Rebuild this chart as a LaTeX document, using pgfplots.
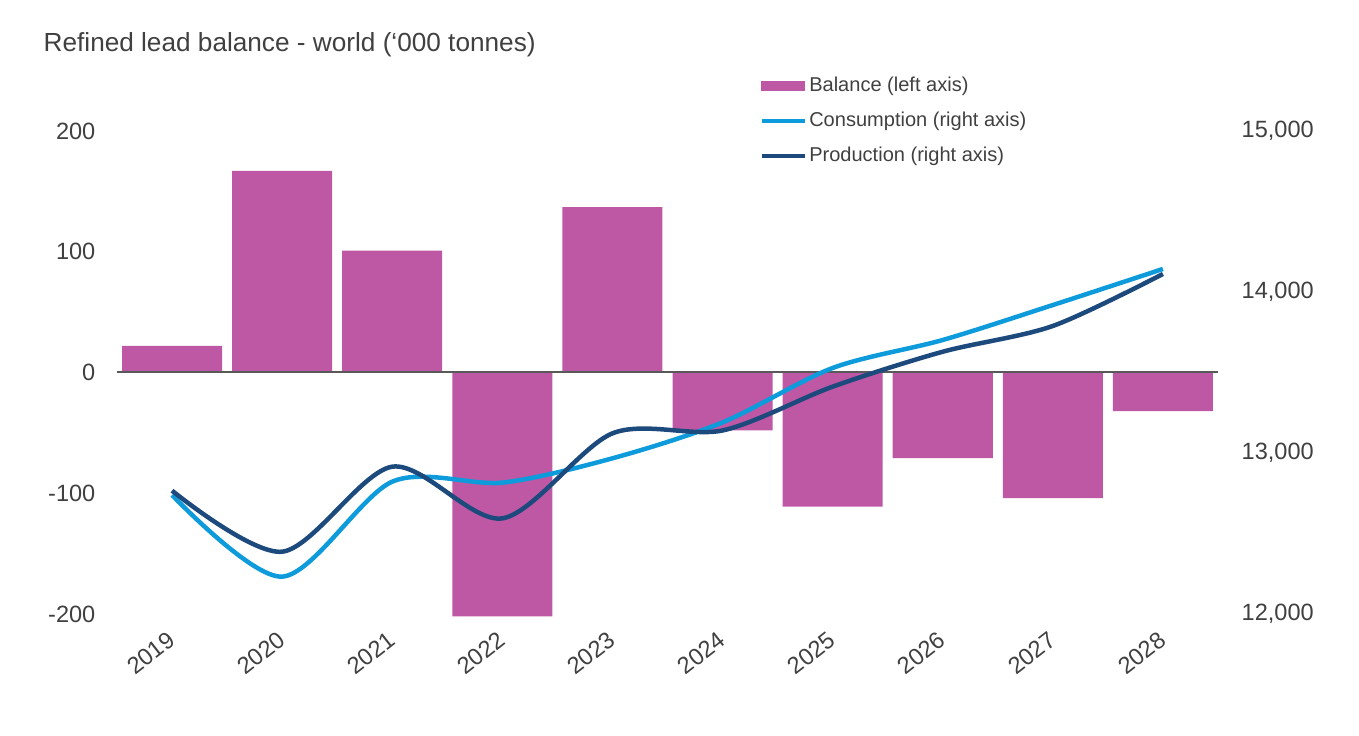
\documentclass[border=0pt]{standalone}
\usepackage{fontspec}
\setmainfont{Liberation Sans}
\usepackage{pgfplots}
\pgfplotsset{compat=1.18}

\definecolor{barpink}{RGB}{190,88,164}
\definecolor{conblue}{RGB}{14,155,219}
\definecolor{prodblue}{RGB}{29,74,124}
\definecolor{txtgray}{RGB}{64,64,64}
\definecolor{zerogray}{RGB}{89,89,89}

\pgfplotsset{
  common/.style={
    scale only axis, width=110.1mm, height=48.3mm,
    xmin=-0.5, xmax=9.5, clip=false,
    axis line style={draw=none}, major tick length=0pt,
    tick label style={font=\fontsize{6.7}{8}\selectfont, text=txtgray},
    /pgf/number format/assume math mode=true,
  }
}

\begin{document}
\begin{tikzpicture}
% Balance (left axis)
\begin{axis}[common, name=ax1,
  ymin=-200, ymax=200, ytick={-200,-100,0,100,200},
  xtick={0,...,9},
  xticklabels={2019,2020,2021,2022,2023,2024,2025,2026,2027,2028},
  xticklabel style={rotate=38, anchor=north east, inner sep=0pt, xshift=-1.4mm, yshift=-0.9mm},
  yticklabel style={anchor=east, inner sep=0pt, xshift=-2.1mm},
]
\addplot[ybar, bar width=10mm, fill=barpink, draw=none] coordinates {
  (0,22) (1,167) (2,101) (3,-202) (4,137)
  (5,-48) (6,-111) (7,-71) (8,-104) (9,-32)
};
\draw[zerogray, line width=0.2mm] (axis cs:-0.5,0) -- (axis cs:9.5,0);
\end{axis}

% Consumption and production (right axis)
\begin{axis}[common,
  axis x line=none, axis y line*=right,
  ymin=12000, ymax=15000, ytick={12000,13000,14000,15000},
  scaled y ticks=false,
  /pgf/number format/1000 sep={,},
  yticklabel style={anchor=west, inner sep=0pt, xshift=2.3mm},
  legend style={draw=none, fill=none, inner sep=0pt,
    font=\fontsize{5.7}{7}\selectfont, text=txtgray,
    at={(rel axis cs:0.583,1.120)}, anchor=north west,
    nodes={text height=1.5mm, text depth=0.45mm, inner sep=0.25mm},
    row sep=1.05mm},
  legend cell align=left,
  legend image code/.code={\draw[#1, line width=0.42mm] (0mm,0mm) -- (4.3mm,0mm);},
]
\addlegendimage{legend image code/.code={\fill[barpink] (0mm,-0.46mm) rectangle (4.3mm,0.46mm);}}
\addlegendentry{Balance (left axis)}
\addplot[conblue, line width=0.45mm, smooth, tension=0.5] coordinates {
  (0,12739) (1,12232) (2,12822) (3,12816) (4,12967)
  (5,13190) (6,13528) (7,13702) (8,13919) (9,14143)
};
\addlegendentry{Consumption (right axis)}
\addplot[prodblue, line width=0.45mm, smooth, tension=0.5] coordinates {
  (0,12766) (1,12387) (2,12915) (3,12594) (4,13122)
  (5,13140) (6,13412) (7,13629) (8,13789) (9,14112)
};
\addlegendentry{Production (right axis)}
\end{axis}

\node[anchor=base west, font=\fontsize{7.45}{9}\selectfont, text=txtgray, inner sep=0pt]
  at ([shift={(-7.4mm,56.2mm)}]ax1.south west) {Refined lead balance - world (‘000 tonnes)};

\path ([shift={(-11.7mm,-12.2mm)}]ax1.south west) rectangle ([shift={(124.2mm,61.4mm)}]ax1.south west);
\end{tikzpicture}
\end{document}
